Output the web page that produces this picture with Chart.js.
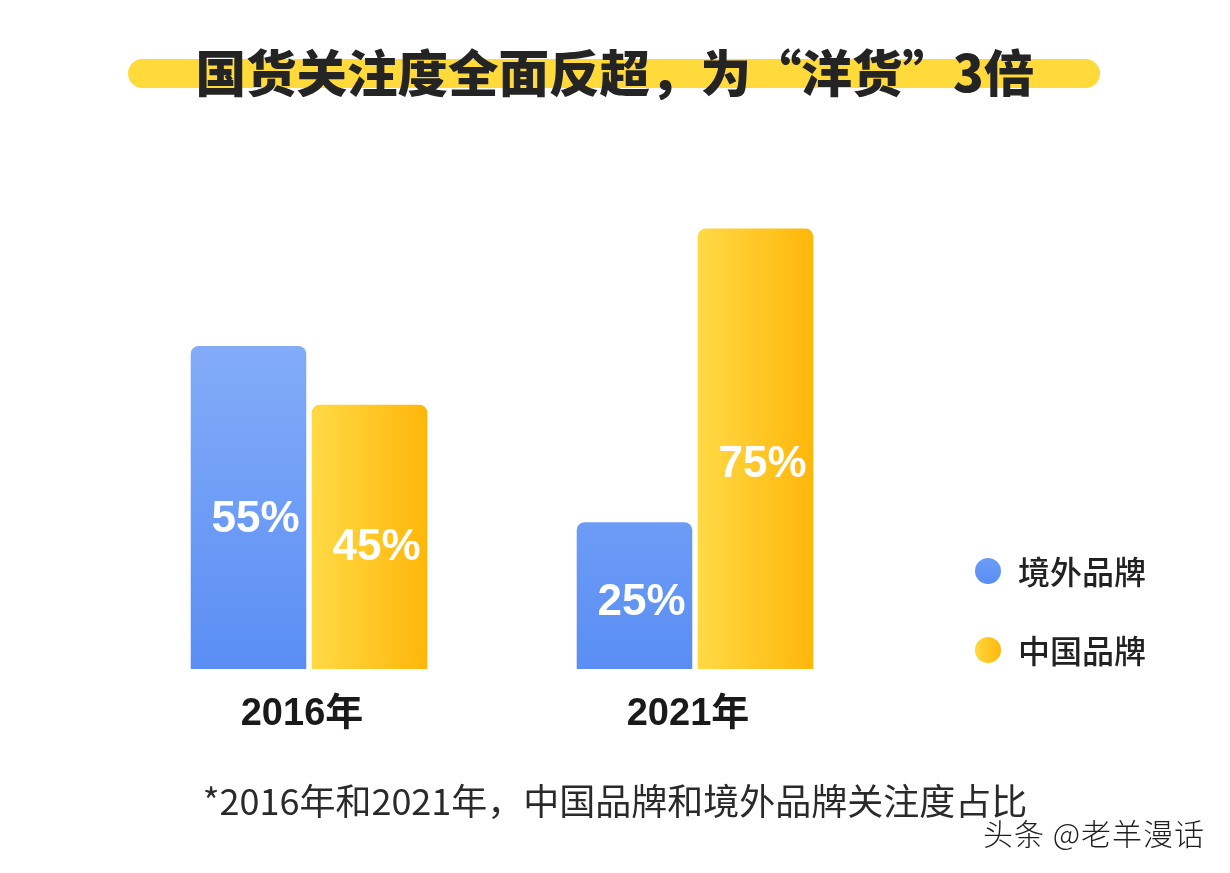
<!DOCTYPE html>
<html>
<head>
<meta charset="utf-8">
<script src="https://cdn.jsdelivr.net/npm/chart.js@4.4.1/dist/chart.umd.min.js"></script>
<style>
  html, body { margin: 0; padding: 0; background: #ffffff; }
  #wrap { position: relative; width: 1230px; height: 873px; overflow: hidden; background: #fff; }
  #c { position: absolute; left: 0; top: 0; }
  .pill { position: absolute; left: 128px; top: 59px; width: 972px; height: 29px; border-radius: 15px; background: #ffda3a; }
  .title { position: absolute; left: 0; width: 1230px; top: 40px; text-align: center;
    font-family: "Noto Sans CJK SC", sans-serif; font-weight: 900; font-size: 50.5px; line-height: 60px; color: #242424; white-space: nowrap; }
  .foot { position: absolute; left: 0; width: 1230px; top: 777px; text-align: center;
    font-family: "Noto Sans CJK SC", sans-serif; font-weight: 400; font-size: 36px; line-height: 44px; color: #2a2a2a; white-space: nowrap; }
  .mark { position: absolute; right: 25px; top: 813px; text-align: right;
    font-family: "Noto Sans CJK SC", sans-serif; font-weight: 300; font-size: 30px; line-height: 38px; color: #1e1e1e; white-space: nowrap; letter-spacing: 1px; }
</style>
</head>
<body>
<div id="wrap">
  <div class="pill"></div>
  <div class="title" id="title"></div>
  <canvas id="c" width="1230" height="873"></canvas>
  <div class="foot" id="foot"></div>
  <div class="mark" id="mark"></div>
</div>
<script>
// ---- data ----
const categories = ['2016年', '2021年'];
const seriesNames = ['境外品牌', '中国品牌'];
const overseasValues = [55, 25];
const domesticValues = [45, 75];
const titleText = '国货关注度全面反超，为“洋货”3倍';
const footText = '*2016年和2021年，中国品牌和境外品牌关注度占比';
const markText = '头条 @老羊漫话';

document.getElementById('title').textContent = titleText;
document.getElementById('foot').textContent = footText;
document.getElementById('mark').textContent = markText;

const CAT_PCT = 0.627, BAR_PCT = 0.955;

function blueFill(context) {
  const chart = context.chart;
  const area = chart.chartArea;
  if (!area) return '#5f92f5';
  const g = chart.ctx.createLinearGradient(0, area.top + 150, 0, area.bottom);
  g.addColorStop(0, '#82acf8');
  g.addColorStop(1, '#5a8ef4');
  return g;
}
function yellowFill(context) {
  const chart = context.chart;
  const area = chart.chartArea;
  const xs = chart.scales.x;
  if (!area || !xs || context.dataIndex === undefined) return '#ffc61a';
  const catW = xs.width / categories.length;
  const slot = catW * CAT_PCT / 2;
  const cx = xs.getPixelForValue(context.dataIndex) + slot / 2;
  const half = slot * BAR_PCT / 2;
  const g = chart.ctx.createLinearGradient(cx - half, 0, cx + half, 0);
  g.addColorStop(0, '#ffda45');
  g.addColorStop(1, '#ffb60a');
  return g;
}

const valueLabels = {
  id: 'valueLabels',
  afterDatasetsDraw(chart) {
    const ctx = chart.ctx;
    ctx.save();
    ctx.fillStyle = '#ffffff';
    ctx.font = 'bold 44px "Liberation Sans", Arial, sans-serif';
    ctx.textAlign = 'center';
    ctx.textBaseline = 'middle';
    chart.data.datasets.forEach((ds, di) => {
      const meta = chart.getDatasetMeta(di);
      meta.data.forEach((bar, i) => {
        const v = ds.data[i];
        const y = bar.y + (bar.base - bar.y) * 0.53 + 3;
        ctx.fillText(v + '%', bar.x + 7, y);
      });
    });
    ctx.restore();
  }
};

const sideLegend = {
  id: 'sideLegend',
  afterDraw(chart) {
    const ctx = chart.ctx;
    const x0 = 988, ys = [571, 650];
    ctx.save();
    chart.data.datasets.forEach((ds, di) => {
      const y = ys[di];
      let fill;
      if (di === 0) {
        fill = ctx.createLinearGradient(0, y - 13, 0, y + 13);
        fill.addColorStop(0, '#6b9cf7'); fill.addColorStop(1, '#5a8ef4');
      } else {
        fill = ctx.createLinearGradient(x0 - 13, 0, x0 + 13, 0);
        fill.addColorStop(0, '#ffd83e'); fill.addColorStop(1, '#ffb80c');
      }
      ctx.beginPath();
      ctx.arc(x0, y, 13, 0, Math.PI * 2);
      ctx.fillStyle = fill;
      ctx.fill();
      ctx.fillStyle = '#222222';
      ctx.font = '500 32px "Noto Sans CJK SC", sans-serif';
      ctx.textAlign = 'left';
      ctx.textBaseline = 'middle';
      ctx.fillText(ds.label, 1018, y + 1);
    });
    ctx.restore();
  }
};

new Chart(document.getElementById('c'), {
  type: 'bar',
  data: {
    labels: categories,
    datasets: [
      { label: seriesNames[0], data: overseasValues, backgroundColor: blueFill },
      { label: seriesNames[1], data: domesticValues, backgroundColor: yellowFill }
    ]
  },
  options: {
    responsive: false,
    animation: false,
    devicePixelRatio: 1,
    layout: { padding: { left: 116, right: 342, top: 199, bottom: 134 } },
    datasets: {
      bar: { categoryPercentage: CAT_PCT, barPercentage: BAR_PCT, borderRadius: 8, borderSkipped: 'start' }
    },
    plugins: {
      legend: { display: false },
      title: { display: false },
      tooltip: { enabled: false }
    },
    scales: {
      x: {
        grid: { display: false, drawTicks: false },
        border: { display: false },
        ticks: {
          color: '#1a1a1a',
          padding: 23,
          labelOffset: -7,
          font: { family: '"Liberation Sans", "Noto Sans CJK SC", Arial, sans-serif', size: 38, weight: 'bold' }
        },
        afterFit(scale) { scale.height = 70; }
      },
      y: {
        display: false,
        min: 0,
        max: 80
      }
    }
  },
  plugins: [valueLabels, sideLegend]
});
</script>
</body>
</html>
